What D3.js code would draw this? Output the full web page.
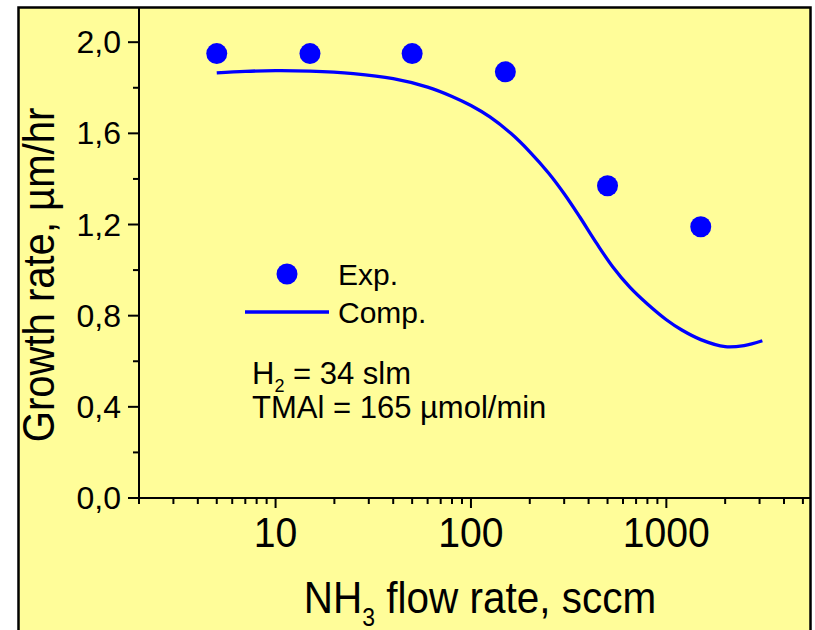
<!DOCTYPE html>
<html>
<head>
<meta charset="utf-8">
<script src="https://cdn.jsdelivr.net/npm/d3@7"></script>
<style>
  html, body { margin: 0; padding: 0; background: #ffffff; }
  svg { display: block; }
  text { font-family: "Liberation Sans", Arial, sans-serif; fill: #000; }
</style>
</head>
<body>
<svg id="chart" width="815" height="630"></svg>
<script>
// Experimental growth rate vs NH3 flow
const expFlow = [5, 15, 50, 150, 500, 1500];
const expRate = [1.95, 1.95, 1.95, 1.87, 1.37, 1.19];

// Computed growth rate curve
const compFlow = [5, 7, 10, 15, 25, 40, 60, 80, 100, 125, 160, 200, 250, 300, 360, 440, 530, 650, 800, 1000, 1200, 1500, 2000, 2500, 3100];
const compRate = [1.865, 1.872, 1.875, 1.873, 1.862, 1.840, 1.803, 1.762, 1.722, 1.672, 1.60, 1.519, 1.425, 1.335, 1.234, 1.117, 1.016, 0.925, 0.851, 0.782, 0.737, 0.695, 0.664, 0.669, 0.690];

// Axis ticks
const xMajorTicks = [10, 100, 1000];
const xTickLabels = ["10", "100", "1000"];
const yMajorTicks = [0, 0.4, 0.8, 1.2, 1.6, 2.0];
const yTickLabels = ["0,0", "0,4", "0,8", "1,2", "1,6", "2,0"];
const yMinorTicks = [0.2, 0.6, 1.0, 1.4, 1.8];

const svg = d3.select("#chart");
const blue = "#0000ff";
const bg = "#fffd99";

const plotLeft = 139, plotRight = 811, plotTop = 8, plotBottom = 498;

const x = d3.scaleLog().domain([2, 5500]).range([plotLeft, plotRight]);
const y = d3.scaleLinear().domain([0, 2.15]).range([plotBottom, plotTop]);

// Panel background and frame
svg.append("rect").attr("x", 18.5).attr("y", 7.5).attr("width", 792).attr("height", 700)
  .attr("fill", bg).attr("stroke", "#000").attr("stroke-width", 2.5);

// Minor x ticks at every 1..9 multiple inside the domain
const xMinorTicks = [];
[1, 10, 100, 1000].forEach(d => {
  for (let k = 2; k <= 9; k++) {
    const v = d * k;
    if (v >= 2 && v <= 5500) xMinorTicks.push(v);
  }
});

const axes = svg.append("g").attr("stroke", "#000").attr("stroke-width", 2);
axes.append("line").attr("x1", plotLeft).attr("x2", plotLeft).attr("y1", plotTop).attr("y2", plotBottom + 1);
axes.append("line").attr("x1", plotLeft - 1).attr("x2", plotRight).attr("y1", plotBottom).attr("y2", plotBottom);

axes.selectAll(".xminor").data(xMinorTicks).join("line")
  .attr("x1", d => x(d)).attr("x2", d => x(d)).attr("y1", plotBottom).attr("y2", plotBottom + 6);
axes.selectAll(".xmajor").data(xMajorTicks).join("line")
  .attr("x1", d => x(d)).attr("x2", d => x(d)).attr("y1", plotBottom).attr("y2", plotBottom + 10);
axes.selectAll(".yminor").data(yMinorTicks).join("line")
  .attr("x1", plotLeft - 6).attr("x2", plotLeft).attr("y1", d => y(d)).attr("y2", d => y(d));
axes.selectAll(".ymajor").data(yMajorTicks).join("line")
  .attr("x1", plotLeft - 11).attr("x2", plotLeft).attr("y1", d => y(d)).attr("y2", d => y(d));

// Tick labels
svg.selectAll(".xlab").data(xMajorTicks).join("text")
  .attr("transform", d => `translate(${x(d)},547) scale(0.91,1)`)
  .attr("text-anchor", "middle").attr("font-size", 43)
  .text((d, i) => xTickLabels[i]);

svg.selectAll(".ylab").data(yMajorTicks).join("text")
  .attr("x", 121).attr("y", d => y(d) + 11)
  .attr("text-anchor", "end").attr("font-size", 32)
  .text((d, i) => yTickLabels[i]);

// Axis titles
const xt = svg.append("text")
  .attr("transform", "translate(480,613) scale(0.92,1)")
  .attr("text-anchor", "middle").attr("font-size", 44);
xt.append("tspan").text("NH");
xt.append("tspan").attr("font-size", 25).attr("dy", 13).text("3");
xt.append("tspan").attr("dy", -13).text(" flow rate, sccm");

svg.append("text")
  .attr("transform", "translate(54,275) rotate(-90) scale(0.89,1)")
  .attr("text-anchor", "middle").attr("font-size", 45)
  .text("Growth rate, µm/hr");

// Computed curve
const line = d3.line().x(d => x(d[0])).y(d => y(d[1])).curve(d3.curveCatmullRom.alpha(0.5));
svg.append("path")
  .datum(compFlow.map((f, i) => [f, compRate[i]]))
  .attr("d", line).attr("fill", "none").attr("stroke", blue).attr("stroke-width", 3.3);

// Experimental points
svg.selectAll(".pt").data(expFlow.map((f, i) => [f, expRate[i]])).join("circle")
  .attr("cx", d => x(d[0])).attr("cy", d => y(d[1])).attr("r", 10.5).attr("fill", blue);

// Legend
svg.append("circle").attr("cx", 287).attr("cy", 274).attr("r", 10.5).attr("fill", blue);
svg.append("text").attr("x", 338).attr("y", 285).attr("font-size", 30).text("Exp.");
svg.append("line").attr("x1", 245).attr("x2", 329).attr("y1", 312).attr("y2", 312)
  .attr("stroke", blue).attr("stroke-width", 3.3);
svg.append("text").attr("x", 338).attr("y", 323).attr("font-size", 30).text("Comp.");

// Run conditions
const h2 = svg.append("text").attr("x", 252).attr("y", 384).attr("font-size", 31);
h2.append("tspan").text("H");
h2.append("tspan").attr("font-size", 18).attr("dy", 8).text("2");
h2.append("tspan").attr("dy", -8).text(" = 34 slm");
svg.append("text").attr("x", 252).attr("y", 418).attr("font-size", 31)
  .text("TMAl = 165 µmol/min");
</script>
</body>
</html>
